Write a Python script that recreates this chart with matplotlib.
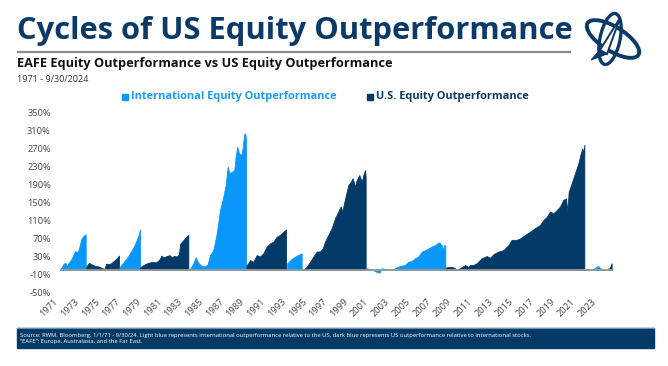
import matplotlib
matplotlib.use("Agg")
import matplotlib.pyplot as plt
from matplotlib.patches import Rectangle, Ellipse, Polygon

# each cycle: years and cumulative outperformance (%)
intl_1_x = [1971.0, 1971.2, 1971.35, 1971.5, 1971.65, 1971.9, 1972.13, 1972.3, 1972.45, 1972.67, 1972.8, 1972.93, 1973.09, 1973.2, 1973.32, 1973.48]
intl_1_y = [0, 8, 14, 16, 10, 18, 25, 35, 42, 40, 45, 57, 70, 74, 77, 79]
us_1_x = [1973.5, 1973.55, 1973.8, 1974.1, 1974.4, 1974.7, 1975.0, 1975.3, 1975.45, 1975.8, 1976.1, 1976.4, 1976.7]
us_1_y = [0, 8, 16, 12, 9, 8, 5, 2, 14, 13, 18, 24, 32]
intl_2_x = [1976.75, 1976.9, 1977.1, 1977.3, 1977.45, 1977.7, 1977.93, 1978.15, 1978.4, 1978.6, 1978.72]
intl_2_y = [5, 11, 16, 22, 26, 35, 44, 53, 66, 78, 90]
us_2_x = [1978.75, 1979.0, 1979.3, 1979.7, 1980.0, 1980.3, 1980.6, 1980.8, 1981.0, 1981.3, 1981.6, 1981.8, 1982.0, 1982.3, 1982.5, 1982.6, 1982.9, 1983.2, 1983.4]
us_2_y = [6, 10, 14, 17, 18, 17, 23, 32, 28, 31, 33, 28, 31, 30, 35, 58, 66, 74, 78]
intl_3_x = [1983.45, 1983.56, 1983.88, 1984.11, 1984.36, 1984.69, 1985.01, 1985.27, 1985.49, 1985.81, 1986.14, 1986.46, 1986.78, 1987.01, 1987.2, 1987.36, 1987.59, 1987.84, 1987.97, 1988.13, 1988.3, 1988.49, 1988.62, 1988.78, 1988.9, 1988.97]
intl_3_y = [0, 2, 15, 28, 16, 9, 8, 13, 33, 44, 81, 133, 163, 189, 230, 215, 218, 222, 252, 274, 259, 255, 267, 300, 304, 289]
us_3_x = [1989.0, 1989.19, 1989.36, 1989.68, 1990.0, 1990.32, 1990.64, 1990.97, 1991.29, 1991.61, 1991.94, 1992.26, 1992.58, 1992.84]
us_3_y = [10, 15, 22, 18, 33, 30, 37, 52, 59, 63, 74, 78, 85, 90]
intl_4_x = [1992.95, 1993.1, 1993.35, 1993.6, 1993.9, 1994.15, 1994.35]
intl_4_y = [15, 18, 24, 28, 32, 35, 37]
us_4_x = [1994.4, 1994.51, 1994.83, 1995.16, 1995.48, 1995.8, 1996.12, 1996.38, 1996.6, 1996.93, 1997.25, 1997.57, 1997.89, 1998.12, 1998.28, 1998.44, 1998.63, 1998.86, 1999.09, 1999.28, 1999.5, 1999.66, 1999.92, 2000.15, 2000.31, 2000.47, 2000.53]
us_4_y = [0, 1, 7, 18, 30, 41, 41, 48, 63, 78, 93, 115, 130, 141, 130, 148, 167, 189, 196, 204, 185, 200, 211, 196, 211, 222, 207]
intl_5_x = [2000.58, 2000.63, 2001.11, 2001.6, 2001.85, 2002.08, 2002.4, 2002.88, 2003.2, 2003.53, 2003.85, 2004.33, 2004.65, 2004.98, 2005.3, 2005.62, 2005.95, 2006.27, 2006.59, 2006.91, 2007.23, 2007.45, 2007.65, 2007.88, 2008.03, 2008.1, 2008.23]
intl_5_y = [0, 4, 1, -4, -6, 4, 2, 0, 2, 6, 9, 11, 18, 20, 26, 30, 41, 44, 48, 52, 55, 59, 61, 55, 44, 55, 55]
us_5_x = [2008.27, 2008.52, 2009.0, 2009.33, 2009.65, 2010.13, 2010.45, 2010.61, 2010.93, 2011.26, 2011.74, 2012.23, 2012.55, 2012.87, 2013.35, 2013.83, 2014.31, 2014.64, 2015.12, 2015.44, 2015.93, 2016.41, 2016.89, 2017.38, 2017.7, 2018.02, 2018.34, 2018.66, 2018.99, 2019.31, 2019.63, 2019.89, 2020.02, 2020.15, 2020.44, 2020.76, 2021.08, 2021.31, 2021.47, 2021.56, 2021.66]
us_5_y = [5, 7, 6, 1, 4, 11, 7, 11, 11, 15, 26, 31, 27, 35, 41, 44, 55, 67, 67, 70, 78, 85, 93, 100, 111, 118, 130, 126, 133, 141, 156, 159, 130, 174, 193, 215, 237, 259, 270, 259, 278]
intl_6_x = [2021.7, 2021.89, 2022.21, 2022.53, 2022.86, 2023.0, 2023.17, 2023.49, 2023.82]
intl_6_y = [0, 2, 1, 2, 7, 9, 4, 1, 0]
us_6_x = [2023.9, 2023.98, 2024.1, 2024.22, 2024.3]
us_6_y = [0, 4, 3, 11, 15]

cycles = [
    (intl_1_x, intl_1_y, "intl"), (us_1_x, us_1_y, "us"),
    (intl_2_x, intl_2_y, "intl"), (us_2_x, us_2_y, "us"),
    (intl_3_x, intl_3_y, "intl"), (us_3_x, us_3_y, "us"),
    (intl_4_x, intl_4_y, "intl"), (us_4_x, us_4_y, "us"),
    (intl_5_x, intl_5_y, "intl"), (us_5_x, us_5_y, "us"),
    (intl_6_x, intl_6_y, "intl"), (us_6_x, us_6_y, "us"),
]

y_ticks = list(range(-50, 351, 40))
x_ticks = list(range(1971, 2024, 2))

LIGHT = "#0a97fa"
DARK = "#033a67"
NAVY = "#0b3a68"
colors = {"intl": LIGHT, "us": DARK}

plt.rcParams["font.family"] = ["Open Sans", "DejaVu Sans"]

W, H = 668, 366
fig = plt.figure(figsize=(W / 100, H / 100), dpi=100)


def px(x, y):
    return x / W, 1 - y / H


def fit_text(x, y, s, width, size, **kw):
    t = fig.text(*px(x, y), s, fontsize=size, **kw)
    r = fig.canvas.get_renderer()
    w = t.get_window_extent(r).width
    t.set_fontsize(size * width / w)
    return t


# header
fit_text(17, 31, "Cycles of US Equity Outperformance", 555, 20, color=NAVY,
         fontweight="bold", va="center", ha="left")
fig.add_artist(plt.Line2D([18 / W, 570 / W], [1 - 52 / H] * 2, color="#8c8c8c", lw=1.6))
fit_text(17, 64, "EAFE Equity Outperformance vs US Equity Outperformance", 373, 9,
         color="#111111", fontweight="bold", va="center", ha="left")
fig.text(*px(17, 79), "1971 - 9/30/2024", fontsize=6.5, color="#333333", va="center", ha="left")

# legend
fig.add_artist(Rectangle(px(122, 99.5), 6 / W, 6 / H, color=LIGHT, transform=fig.transFigure))
fit_text(131, 96, "International Equity Outperformance", 207, 8, color="#1a9cf3",
         fontweight="bold", va="center", ha="left")
fig.add_artist(Rectangle(px(367, 99.5), 6 / W, 6 / H, color=DARK, transform=fig.transFigure))
fit_text(376, 96, "U.S. Equity Outperformance", 154, 8, color=NAVY,
         fontweight="bold", va="center", ha="left")

# logo (rough emblem: two rings and a rocket)
lg = fig.add_axes([580 / W, 1 - 68 / H, 65 / W, 58 / H])
lg.set_xlim(0, 65)
lg.set_ylim(0, 58)
lg.set_aspect("equal")
lg.axis("off")
lg.add_patch(Ellipse((33, 29), 60, 24, angle=-32, fill=False, ec=NAVY, lw=2.8))
lg.add_patch(Ellipse((30, 29), 52, 20, angle=78, fill=False, ec=NAVY, lw=2.4))
lg.add_patch(Polygon([(40, 50), (20, 18), (27, 14)], closed=True, fc="white", ec=NAVY, lw=1.4))
lg.add_patch(Polygon([(20, 18), (11, 8), (27, 14)], closed=True, fc=NAVY, ec=NAVY, lw=0.8))

# chart
x0, x1 = 1971 - 5 / 10.35, 1971 + 560 / 10.35
ax = fig.add_axes([55 / W, 1 - 292.5 / H, 565 / W, 180 / H])
for xs, ys, kind in cycles:
    ax.fill_between(xs, 0, ys, color=colors[kind], lw=0.6, ec=colors[kind])
ax.hlines(0, intl_1_x[0], us_6_x[-1], color="#9a9a9a", lw=1.3, zorder=3)
ax.set_xlim(x0, x1)
ax.set_ylim(-50, 350)
ax.set_yticks(y_ticks)
ax.set_yticklabels([f"{v}%" for v in y_ticks])
ax.set_xticks(x_ticks)
ax.set_xticklabels([str(v) for v in x_ticks], rotation=45, ha="right")
ax.tick_params(length=0, labelsize=6.7, labelcolor="#444444", pad=3)
for s in ax.spines.values():
    s.set_visible(False)

# footer
fig.add_artist(Rectangle(px(17, 348), 637 / W, 20 / H, color="#053a66", transform=fig.transFigure))
fig.add_artist(plt.Line2D([17 / W, 654 / W], [1 - 328 / H] * 2, color="#6d8fb0", lw=0.8))
fit_text(19.5, 335, "Source: RWM, Bloomberg, 1/1/71 - 9/30/24. Light blue represents international "
         "outperformance relative to the US, dark blue represents US outperformance relative to "
         "international stocks.", 512, 4.5, color="white", va="center", ha="left")
fig.text(*px(19.5, 342), "\u201cEAFE\u201d: Europe, Australasia, and the Far East.",
         fontsize=fig.texts[-1].get_fontsize(), color="white", va="center", ha="left")

fig.savefig("out.png", dpi=100)
